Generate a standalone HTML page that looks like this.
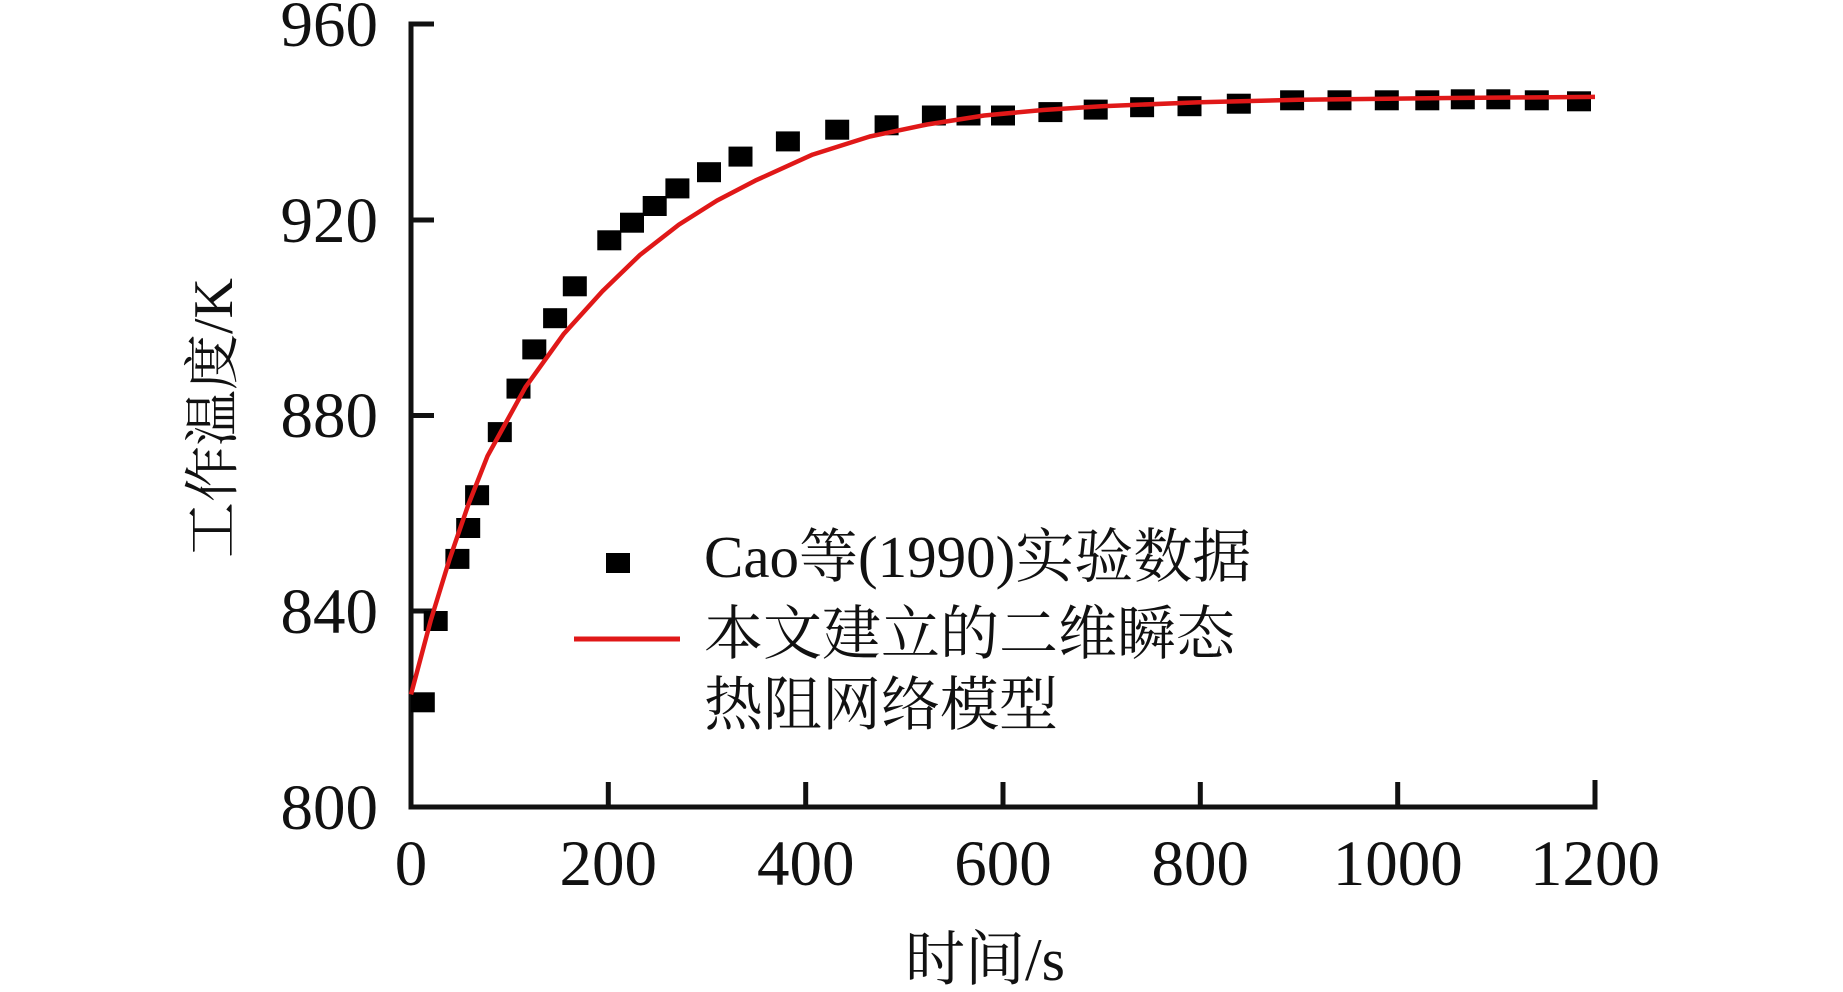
<!DOCTYPE html>
<html><head><meta charset="utf-8"><style>
html,body{margin:0;padding:0;background:#fff;}
svg{display:block;}
text{font-family:"Liberation Serif","Noto Serif CJK SC",serif;fill:#111;}
</style></head><body>
<svg width="1843" height="992" viewBox="0 0 1843 992" xmlns="http://www.w3.org/2000/svg">
<g stroke="#111" stroke-width="5" fill="none">
<polyline points="434,24 411,24 411,807 1595,807 1595,780"/>
<line x1="411" y1="220" x2="434" y2="220"/>
<line x1="411" y1="415.5" x2="434" y2="415.5"/>
<line x1="411" y1="611" x2="434" y2="611"/>
<line x1="608.3" y1="807" x2="608.3" y2="782"/>
<line x1="805.7" y1="807" x2="805.7" y2="782"/>
<line x1="1003" y1="807" x2="1003" y2="782"/>
<line x1="1200.3" y1="807" x2="1200.3" y2="782"/>
<line x1="1397.7" y1="807" x2="1397.7" y2="782"/>
</g>
<g font-size="65" text-anchor="end">
<text x="378" y="46">960</text>
<text x="378" y="242">920</text>
<text x="378" y="437">880</text>
<text x="378" y="633">840</text>
<text x="378" y="829">800</text>
</g>
<g font-size="65" text-anchor="middle">
<text x="411" y="885">0</text>
<text x="608.3" y="885">200</text>
<text x="805.7" y="885">400</text>
<text x="1003" y="885">600</text>
<text x="1200.3" y="885">800</text>
<text x="1397.7" y="885">1000</text>
<text x="1595" y="885">1200</text>
</g>
<text x="985" y="980" font-size="60" text-anchor="middle">时间/s</text>
<text transform="translate(232,418) rotate(-90)" font-size="56" text-anchor="middle">工作温度/K</text>
<g fill="#000" transform="translate(-12,-10)">
<rect x="422.8" y="702.3" width="24" height="20"/>
<rect x="435.7" y="621" width="24" height="20"/>
<rect x="457.4" y="558.9" width="24" height="20"/>
<rect x="468.2" y="528" width="24" height="20"/>
<rect x="477.1" y="495.2" width="24" height="20"/>
<rect x="499.8" y="432.1" width="24" height="20"/>
<rect x="518.5" y="388.6" width="24" height="20"/>
<rect x="534.3" y="349.4" width="24" height="20"/>
<rect x="555.1" y="318.2" width="24" height="20"/>
<rect x="574.8" y="286.3" width="24" height="20"/>
<rect x="609.3" y="240.3" width="24" height="20"/>
<rect x="632" y="222.7" width="24" height="20"/>
<rect x="654.7" y="206" width="24" height="20"/>
<rect x="677.4" y="188.4" width="24" height="20"/>
<rect x="709" y="172.2" width="24" height="20"/>
<rect x="740.5" y="156.6" width="24" height="20"/>
<rect x="787.9" y="141.4" width="24" height="20"/>
<rect x="837.2" y="129.7" width="24" height="20"/>
<rect x="886.6" y="125.3" width="24" height="20"/>
<rect x="933.9" y="115.5" width="24" height="20"/>
<rect x="968.5" y="115.5" width="24" height="20"/>
<rect x="1003" y="115.5" width="24" height="20"/>
<rect x="1050.4" y="112.1" width="24" height="20"/>
<rect x="1095.7" y="109.6" width="24" height="20"/>
<rect x="1142.1" y="107.2" width="24" height="20"/>
<rect x="1189.5" y="106.2" width="24" height="20"/>
<rect x="1238.8" y="103.7" width="24" height="20"/>
<rect x="1292.1" y="100.3" width="24" height="20"/>
<rect x="1339.5" y="100.3" width="24" height="20"/>
<rect x="1386.8" y="100.3" width="24" height="20"/>
<rect x="1427.3" y="100.3" width="24" height="20"/>
<rect x="1462.8" y="99.3" width="24" height="20"/>
<rect x="1498.3" y="99.3" width="24" height="20"/>
<rect x="1536.8" y="100.3" width="24" height="20"/>
<rect x="1579" y="101.3" width="24" height="20"/>
</g>
<polyline fill="none" stroke="#e01818" stroke-width="4.5" stroke-linejoin="round" points="411,694.4 430.7,620.5 449.5,559.4 468.2,505 487.5,456.1 525.5,387.1 563.9,333.7 602.4,291.2 639.9,255 678.9,224.6 716.9,200.6 755.3,180.6 812.6,154.6 869.8,136.5 927,124.5 984.2,115.5 1043,110 1101.7,106.2 1200,102.3 1299,99.8 1450,98 1595,96.9"/>
<rect x="606" y="553" width="24" height="20" fill="#000"/>
<line x1="574" y1="639" x2="680" y2="639" stroke="#e01818" stroke-width="5"/>
<g font-size="59">
<text x="704" y="577">Cao等(1990)实验数据</text>
<text x="704" y="654">本文建立的二维瞬态</text>
<text x="704" y="725">热阻网络模型</text>
</g>
</svg>
</body></html>
